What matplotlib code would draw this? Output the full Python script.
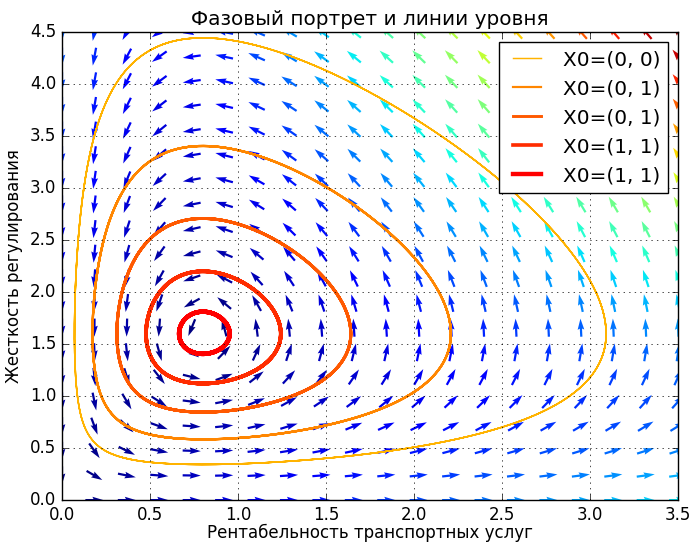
import matplotlib
matplotlib.use("Agg")
import matplotlib.pyplot as plt
import numpy as np

# ── Model (centre at (0.8, 1.6), orbit proportions) ───────────────────────────
A, B, C, D = 2.0, 1.25, 1.0, 1.25       # dx = x(A - B y), dy = y(D x - C)
X_EQ = np.array([C / D, A / B])         # (0.8, 1.6)
START_SCALES = [0.3, 0.45, 0.6, 0.75, 0.9]
LABELS = ["X0=(0, 0)", "X0=(0, 1)", "X0=(0, 1)", "X0=(1, 1)", "X0=(1, 1)"]
XMAX, YMAX = 3.5, 4.5
NB_POINTS = 20

TITLE = "Фазовый портрет и линии уровня"
XLABEL = "Рентабельность транспортных услуг"
YLABEL = "Жесткость регулирования"


def dX_dt(X):
    x, y = X[0], X[1]
    return np.array([A * x - B * x * y, -C * y + D * x * y])


def integrate(x0, t_end=20.0, dt=0.002):
    n = int(t_end / dt)
    out = np.empty((n + 1, 2))
    X = np.array(x0, dtype=float)
    out[0] = X
    for i in range(n):
        k1 = dX_dt(X)
        k2 = dX_dt(X + 0.5 * dt * k1)
        k3 = dX_dt(X + 0.5 * dt * k2)
        k4 = dX_dt(X + dt * k3)
        X = X + dt / 6.0 * (k1 + 2 * k2 + 2 * k3 + k4)
        out[i + 1] = X
    return out


plt.style.use("classic")
fig = plt.figure(figsize=(6.92, 5.43), dpi=100)
ax = fig.add_axes([0.0896, 0.079, 0.8904, 0.862])

colors = plt.cm.autumn_r(np.linspace(0.3, 1.0, len(START_SCALES)))
for v, col, lab in zip(START_SCALES, colors, LABELS):
    traj = integrate(v * X_EQ)
    ax.plot(traj[:, 0], traj[:, 1], lw=3.5 * v, color=col, label=lab)

# direction field
x = np.linspace(0, XMAX, NB_POINTS)
y = np.linspace(0, YMAX, NB_POINTS)
X1, Y1 = np.meshgrid(x, y)
DX1, DY1 = dX_dt([X1, Y1])
M = np.hypot(DX1, DY1)
M[M == 0] = 1.0
DX1 /= M
DY1 /= M
ax.quiver(X1, Y1, DX1, DY1, M, pivot="mid", cmap=plt.cm.jet,
          scale=34, width=0.0036)

ax.set_title(TITLE)
ax.set_xlabel(XLABEL, labelpad=0)
ax.set_ylabel(YLABEL)
ax.legend(loc="upper right")
ax.grid(True)
ax.set_xlim(0, XMAX)
ax.set_ylim(0, YMAX)

fig.savefig("out.png", dpi=100)
